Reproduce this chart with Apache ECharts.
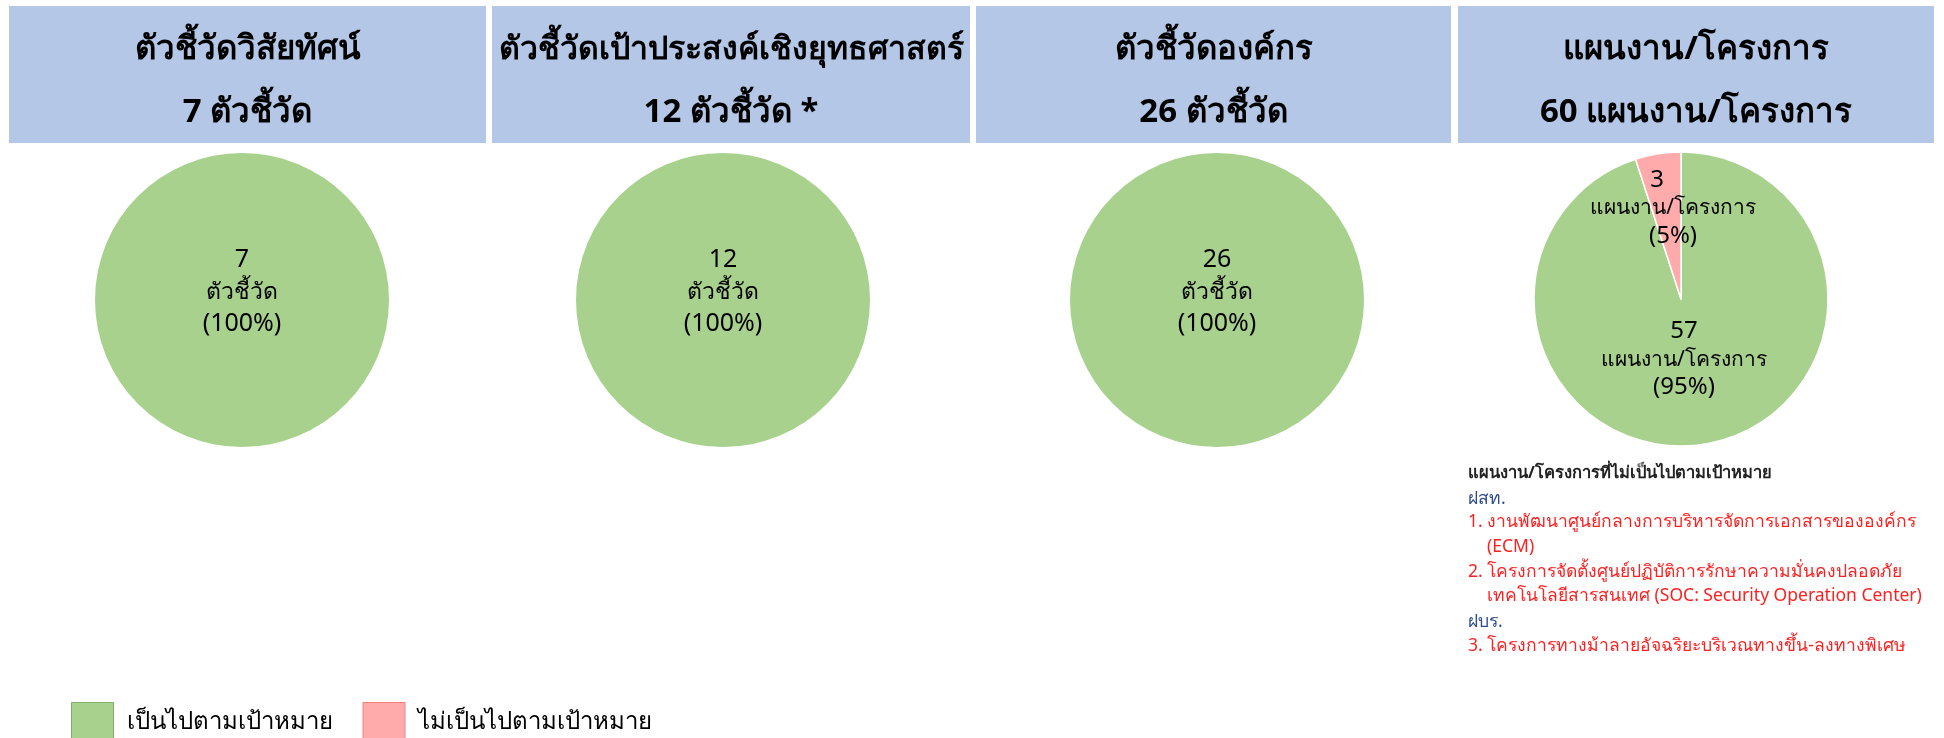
<!DOCTYPE html>
<html><head><meta charset="utf-8">
<script src="https://cdn.jsdelivr.net/npm/echarts@6/dist/echarts.min.js"></script>
<style>html,body{margin:0;padding:0;background:#fff}#c{width:1944px;height:738px}</style>
</head><body><div id="c"></div>
<script>
// ---- data ----
const panelTitles = ['ตัวชี้วัดวิสัยทัศน์', 'ตัวชี้วัดเป้าประสงค์เชิงยุทธศาสตร์', 'ตัวชี้วัดองค์กร', 'แผนงาน/โครงการ'];
const panelSubtitles = ['7 ตัวชี้วัด', '12 ตัวชี้วัด *', '26 ตัวชี้วัด', '60 แผนงาน/โครงการ'];
const units = ['ตัวชี้วัด', 'ตัวชี้วัด', 'ตัวชี้วัด', 'แผนงาน/โครงการ'];
const metValues = [7, 12, 26, 57];
const notMetValues = [0, 0, 0, 3];
const statusNames = ['เป็นไปตามเป้าหมาย', 'ไม่เป็นไปตามเป้าหมาย'];
const notesTitle = 'แผนงาน/โครงการที่ไม่เป็นไปตามเป้าหมาย';
const notesLines = [
  ['dept', 'ฝสท.'],
  ['item', '1. งานพัฒนาศูนย์กลางการบริหารจัดการเอกสารขององค์กร'],
  ['cont', '(ECM)'],
  ['item', '2. โครงการจัดตั้งศูนย์ปฏิบัติการรักษาความมั่นคงปลอดภัย'],
  ['cont', 'เทคโนโลยีสารสนเทศ (SOC: Security Operation Center)'],
  ['dept', 'ฝบร.'],
  ['item', '3. โครงการทางม้าลายอัจฉริยะบริเวณทางขึ้น-ลงทางพิเศษ']
];

// ---- styling ----
const FONT = 'Tahoma, "Noto Sans", "DejaVu Sans", sans-serif';
const GREEN = '#A9D18E', PINK = '#FFABAB';
const boxes = [[9, 6, 477, 137], [492, 6, 478, 137], [976, 6, 475, 137], [1458, 6, 476, 137]];
const titleSizes = [33, 32, 33, 33];
const pieCenters = [[242, 300], [723, 300], [1217, 300], [1681, 299]];
const R = 147;
const unitSizes = [23, 23, 23, 21];
const numSizes = [25, 25, 25, 24];
const lineHeights = [32, 32, 32, 28];

const graphics = [];
boxes.forEach((b, i) => {
  graphics.push({ type: 'rect', shape: { x: b[0], y: b[1], width: b[2], height: b[3] }, style: { fill: '#B4C7E7' }, silent: true });
  graphics.push({ type: 'text', x: b[0] + b[2] / 2, y: 50, style: { text: panelTitles[i], font: 'bold ' + titleSizes[i] + 'px ' + FONT, fill: '#000', align: 'center', verticalAlign: 'middle' } });
  graphics.push({ type: 'text', x: b[0] + b[2] / 2, y: 113, style: { text: panelSubtitles[i], font: 'bold 33px ' + FONT, fill: '#000', align: 'center', verticalAlign: 'middle' } });
});
// notes
const NX = 1468;
graphics.push({ type: 'text', x: NX, y: 473, style: { text: notesTitle, font: 'bold 16.5px ' + FONT, fill: '#222', verticalAlign: 'middle' } });
const noteY = [499, 522, 547, 572, 596, 622, 646];
notesLines.forEach((l, i) => {
  graphics.push({ type: 'text', x: l[0] === 'cont' ? NX + 19 : NX, y: noteY[i], style: { text: l[1], font: '17.5px ' + FONT, fill: l[0] === 'dept' ? '#2F4B8F' : '#FF1F1F', verticalAlign: 'middle' } });
});

// label nudges [dx, dy] per series / slice
const labelShift = [
  [[0, -8]], [[0, -8]], [[0, -8]],
  [[-9, -15], [4, -15]]
];

const series = metValues.map((m, i) => {
  const vals = [m, notMetValues[i]];
  const data = [];
  vals.forEach((v, k) => {
    if (v > 0) data.push({
      name: statusNames[k], value: v,
      itemStyle: { color: k === 0 ? GREEN : PINK },
      label: k === 1 ? { formatter: '{n|{c}}\n{u|' + units[i] + '}\n{a|({d}%)}' } : {}
    });
  });
  const single = data.length === 1;
  const base = { fontFamily: FONT, color: '#000', lineHeight: lineHeights[i] };
  return {
    type: 'pie', center: pieCenters[i], radius: R, startAngle: 90, clockwise: true,
    silent: true, animation: false,
    itemStyle: { borderColor: '#fff', borderWidth: single ? 0 : 1.5 },
    label: {
      show: true, position: single ? 'center' : 'inside',
      formatter: '{a|{c}}\n{u|' + units[i] + '}\n{a|({d}%)}',
      fontFamily: FONT, fontSize: numSizes[i], lineHeight: lineHeights[i], color: '#000', align: 'center',
      rich: {
        a: Object.assign({ fontSize: numSizes[i] }, base),
        u: Object.assign({ fontSize: unitSizes[i] }, base),
        n: Object.assign({ fontSize: numSizes[i], padding: [0, 32, 0, 0] }, base)
      }
    },
    labelLine: { show: false },
    labelLayout: (p) => {
      const s = labelShift[i][p.dataIndex] || [0, 0];
      return { dx: s[0], dy: s[1] };
    },
    data
  };
});

const chart = echarts.init(document.getElementById('c'), null, { renderer: 'canvas' });
chart.setOption({
  animation: false,
  legend: {
    left: 66, top: 697, orient: 'horizontal', itemWidth: 42, itemHeight: 40, itemGap: 30,
    selectedMode: false,
    data: [
      { name: statusNames[0], icon: 'rect', itemStyle: { color: GREEN, borderColor: '#7FB069', borderWidth: 1 } },
      { name: statusNames[1], icon: 'rect', itemStyle: { color: PINK, borderColor: '#F08080', borderWidth: 1 } }
    ],
    textStyle: { fontFamily: FONT, fontSize: 24, color: '#000', padding: [0, 0, 0, 8] }
  },
  graphic: graphics,
  series
});
</script></body></html>
